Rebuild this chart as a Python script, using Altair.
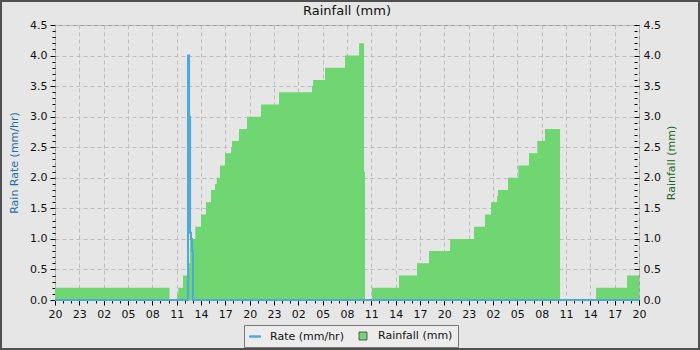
import altair as alt
import pandas as pd

# ---- data (hours since 20:00 on day 1, three days shown) ----
rain_hours = [0, 14.12, 15.05, 15.20, 15.78, 16.40, 16.65, 17.30, 18.0, 18.62, 19.23, 19.73,
              19.94, 20.34, 20.96, 21.71, 21.83, 22.68, 23.67, 25.40, 27.62, 31.68, 31.82,
              33.29, 35.76, 37.49, 38.10, 38.22, 39.08, 42.41, 44.63, 46.11, 48.71, 51.66,
              53.01, 53.76, 54.50, 54.62, 55.85, 57.12, 58.44, 59.46, 60.41, 62.27, 66.71,
              70.52, 72]
rain_vals = [0.2, 0.0, 0.1, 0.2, 0.4, 0.6, 1.0, 1.2, 1.4, 1.6, 1.8, 1.9,
             2.0, 2.2, 2.4, 2.5, 2.6, 2.8, 3.0, 3.2, 3.4, 3.5, 3.6,
             3.8, 4.0, 4.2, 2.1, 0.0, 0.2, 0.4, 0.6, 0.8, 1.0, 1.2,
             1.4, 1.6, 1.7, 1.8, 2.0, 2.2, 2.4, 2.6, 2.8, 0.0, 0.2,
             0.4, 0.4]

rate_hours = [0, 16.40, 16.53, 16.65, 16.77, 16.89, 17.01, 72]
rate_vals = [0, 4.0, 3.0, 1.1, 1.0, 0.8, 0.0, 0.0]

series_names = ["Rate (mm/hr)", "Rainfall (mm)"]

x_ticks = list(range(0, 73))
y_ticks = [round(i * 0.1, 1) for i in range(46)]

BLUE = "#4ba9dc"
GREEN = "#6fd672"
FONT = "DejaVu Sans"

rain_df = pd.DataFrame({"h": rain_hours, "v": rain_vals})
rate_df = pd.DataFrame({"h": rate_hours, "v": rate_vals})
legend_df = pd.DataFrame({"series": series_names})

x_major = "datum.value % 3 === 0"
y_major = "abs(datum.value*2 - round(datum.value*2)) < 1e-6"

x_enc = alt.X(
    "h:Q",
    scale=alt.Scale(domain=[0, 72], nice=False, zero=False),
    axis=alt.Axis(
        title=None,
        values=x_ticks,
        labelExpr=x_major + " ? (((20 + datum.value) % 24) < 10 ? '0' : '') + ((20 + datum.value) % 24) : ''",
        labelOverlap=False,
        labelFlush=False,
        labelFontSize=11,
        labelColor="#111",
        labelPadding=3,
        tickColor="#000",
        tickSize={"condition": {"test": x_major, "value": 5}, "value": 3},
        grid=True,
        gridColor="#bdbdbd",
        gridDash=[4, 3],
        gridOpacity={"condition": {"test": x_major, "value": 1}, "value": 0},
        domain=False,
    ),
)

area = alt.Chart(rain_df).mark_area(interpolate="step-after", color=GREEN, opacity=1).encode(
    x=x_enc,
    y=alt.Y(
        "v:Q",
        scale=alt.Scale(domain=[0, 4.5], nice=False),
        axis=alt.Axis(
            orient="right",
            title="Rainfall (mm)",
            titleColor="#1d6b1d",
            titleFontSize=11,
            titleFontWeight="normal",
            titleAngle=270,
            titlePadding=16,
            values=y_ticks,
            labelExpr=y_major + " ? format(datum.value, '.1f') : ''",
            labelOverlap=False,
            labelFlush=False,
            labelFontSize=11,
            labelColor="#111",
            labelPadding=4,
            offset=-5,
            tickColor="#000",
            tickSize={"condition": {"test": y_major, "value": 5}, "value": 3},
            grid=False,
            domain=False,
        ),
    ),
)

line = alt.Chart(rate_df).mark_line(interpolate="step-after", color=BLUE, strokeWidth=2).encode(
    x=x_enc,
    y=alt.Y(
        "v:Q",
        scale=alt.Scale(domain=[0, 4.5], nice=False),
        axis=alt.Axis(
            orient="left",
            title="Rain Rate (mm/hr)",
            titleColor="#1f6fa8",
            titleFontSize=11,
            titleFontWeight="normal",
            titlePadding=10,
            values=y_ticks,
            labelExpr=y_major + " ? format(datum.value, '.1f') : ''",
            labelOverlap=False,
            labelFlush=False,
            labelFontSize=11,
            labelColor="#111",
            labelPadding=3,
            tickColor="#000",
            tickSize={"condition": {"test": y_major, "value": 5}, "value": 3},
            grid=True,
            gridColor="#bdbdbd",
            gridDash=[4, 3],
            gridOpacity={"condition": {"test": y_major, "value": 1}, "value": 0},
            domain=False,
        ),
    ),
)

leg = alt.Legend(
    title=None,
    orient="none",
    legendX=189,
    legendY=300,
    direction="horizontal",
    fillColor="#ececec",
    strokeColor="#777777",
    padding=5,
    labelFont=FONT,
    labelFontSize=11,
    labelColor="#111",
    labelOffset=9,
    columnPadding=13,
    symbolSize=121,
    symbolStrokeWidth=1,
    symbolOpacity=1,
)

legend_layer = alt.Chart(legend_df).mark_point(filled=True, strokeWidth=1, opacity=1).encode(
    fill=alt.Fill("series:N", scale=alt.Scale(domain=series_names, range=[BLUE, GREEN]), legend=leg),
    stroke=alt.Stroke("series:N", scale=alt.Scale(domain=series_names, range=[BLUE, "#555555"]), legend=leg),
    shape=alt.Shape(
        "series:N",
        scale=alt.Scale(domain=series_names,
                        range=["M-1,-0.12H1V0.12H-1Z", "M-0.72,-0.72H0.72V0.72H-0.72Z"]),
        legend=leg,
    ),
).transform_filter("false")

frame = alt.Chart(pd.DataFrame({"a": [0]})).mark_rect(
    filled=False, stroke="#505050", strokeWidth=2
).encode(
    x=alt.value(-54), x2=alt.value(644), y=alt.value(-24), y2=alt.value(324)
)

chart = (
    alt.layer(area, line, legend_layer, frame)
    .resolve_scale(y="independent")
    .properties(
        width=584,
        height=275,
        padding={"left": 55, "top": 25, "right": 61, "bottom": 50},
        autosize=alt.AutoSizeParams(type="none"),
        background="#e6e6e6",
        title=alt.Title("Rainfall (mm)", fontSize=13, fontWeight="normal", font=FONT,
                        color="#111", offset=7, dy=25, anchor="middle", frame="group"),
    )
    .configure(font=FONT)
    .configure_view(stroke="#999999", strokeWidth=1)
    .configure_axis(labelFont=FONT, titleFont=FONT)
)

chart.save("out.html", embed_options={"renderer": "svg", "actions": False})
